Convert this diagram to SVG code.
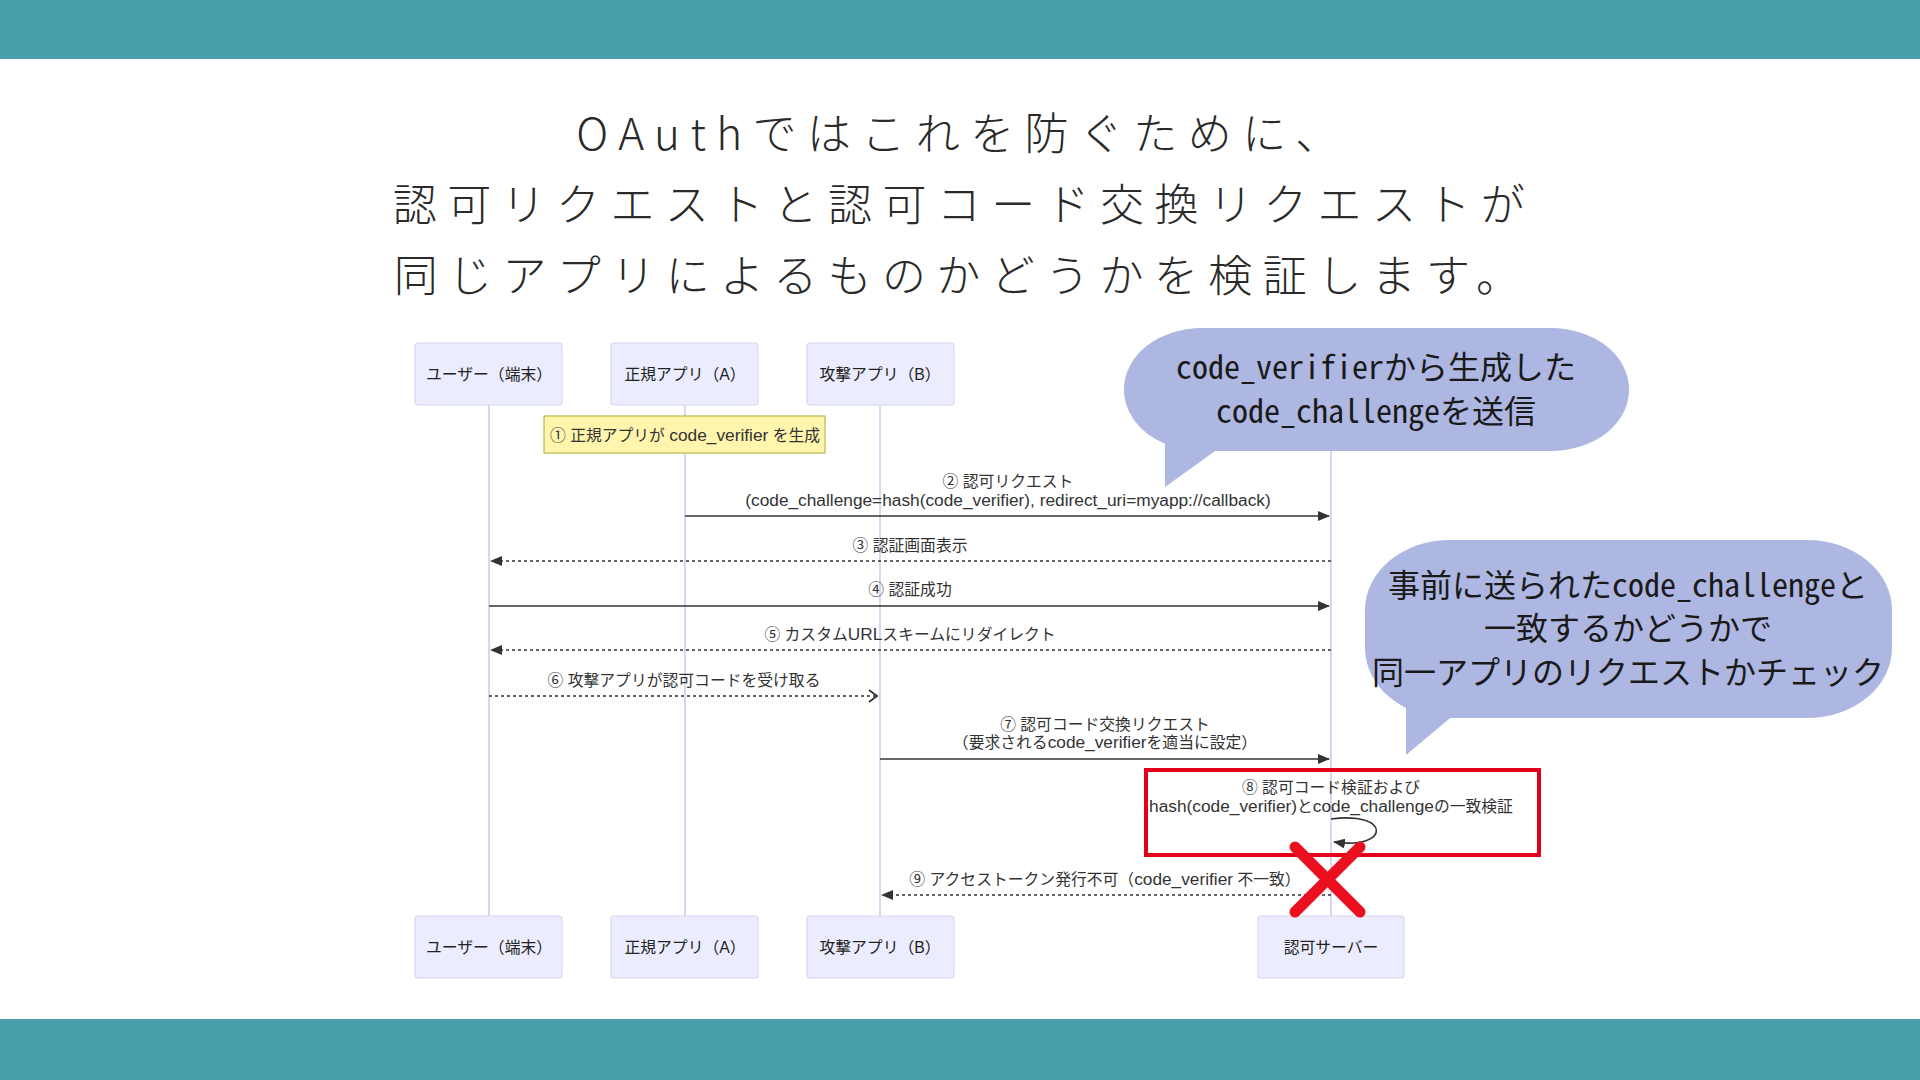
<svg xmlns="http://www.w3.org/2000/svg" width="1920" height="1080" viewBox="0 0 1920 1080">
<defs>
<style>
.band{fill:#4a9fac}
.title{font-family:"Noto Sans CJK JP","Noto Sans",sans-serif;font-weight:300;font-size:44px;letter-spacing:10.4px;fill:#2a2a2a;text-anchor:middle}
.actor{fill:#ececff;stroke:#d9d4f3;stroke-width:1.2}
.atext{font-family:"Liberation Sans","Noto Sans CJK JP",sans-serif;font-size:15.8px;fill:#222;text-anchor:middle}
.life{stroke:#ccc8ee;stroke-width:1.5}
.lbl{font-family:"Liberation Sans","Noto Sans CJK JP",sans-serif;font-size:15.8px;fill:#333;text-anchor:middle}
.lt{font-size:17.3px}
.msg{stroke:#333;stroke-width:1.6;fill:none}
.dot{stroke-dasharray:3 3}
.note{fill:#fff5ad;stroke:#aaaa33;stroke-width:1}
.bub{fill:#aeb6e2}
.btext{font-family:"Noto Sans Mono CJK JP","Noto Sans CJK JP",sans-serif;font-size:32px;fill:#1a1a1a;text-anchor:middle}
.redbox{fill:none;stroke:#e3001b;stroke-width:4}
.cross{stroke:#ea1020;stroke-width:11;stroke-linecap:round}
</style>
<marker id="ah" viewBox="0 0 12 10" refX="11" refY="5" markerWidth="12" markerHeight="10" markerUnits="userSpaceOnUse" orient="auto">
<path d="M0,0 L12,5 L0,10 Z" fill="#333"/>
</marker>
<marker id="open" viewBox="0 0 12 14" refX="11" refY="7" markerWidth="12" markerHeight="14" markerUnits="userSpaceOnUse" orient="auto">
<path d="M2,1 L10,7 L2,13" fill="none" stroke="#333" stroke-width="1.8"/>
</marker>
</defs>
<rect width="1920" height="1080" fill="#ffffff"/>
<rect class="band" x="0" y="0" width="1920" height="59"/>
<rect class="band" x="0" y="1019" width="1920" height="61"/>

<g id="title">
<text class="title" x="963" y="150">OAuthではこれを防ぐために、</text>
<text class="title" x="964" y="221">認可リクエストと認可コード交換リクエストが</text>
<text class="title" x="962" y="292">同じアプリによるものかどうかを検証します。</text>
</g>

<g id="lifelines">
<line class="life" x1="489" y1="405" x2="489" y2="916"/>
<line class="life" x1="685" y1="405" x2="685" y2="916"/>
<line class="life" x1="880" y1="405" x2="880" y2="916"/>
<line class="life" x1="1331" y1="405" x2="1331" y2="916"/>
</g>

<g id="actor-user-top"><rect class="actor" x="415" y="343" width="147" height="62" rx="3"/><text class="atext" x="489" y="380">ユーザー（端末）</text></g>
<g id="actor-a-top"><rect class="actor" x="611" y="343" width="147" height="62" rx="3"/><text class="atext" x="685" y="380">正規アプリ（A）</text></g>
<g id="actor-b-top"><rect class="actor" x="807" y="343" width="147" height="62" rx="3"/><text class="atext" x="880" y="380">攻撃アプリ（B）</text></g>

<g id="actor-user-bottom"><rect class="actor" x="415" y="916" width="147" height="62" rx="3"/><text class="atext" x="489" y="953">ユーザー（端末）</text></g>
<g id="actor-a-bottom"><rect class="actor" x="611" y="916" width="147" height="62" rx="3"/><text class="atext" x="685" y="953">正規アプリ（A）</text></g>
<g id="actor-b-bottom"><rect class="actor" x="807" y="916" width="147" height="62" rx="3"/><text class="atext" x="880" y="953">攻撃アプリ（B）</text></g>
<g id="actor-server-bottom"><rect class="actor" x="1258" y="916" width="146" height="62" rx="3"/><text class="atext" x="1331" y="953">認可サーバー</text></g>

<g id="note1"><rect class="note" x="544" y="416" width="281" height="37"/><text class="lbl" x="685" y="441">① 正規アプリが <tspan class="lt">code_verifier</tspan> を生成</text></g>

<g id="connectors">
<line class="msg" x1="685" y1="516" x2="1329" y2="516" marker-end="url(#ah)"/>
<line class="msg dot" x1="1331" y1="561" x2="491" y2="561" marker-end="url(#ah)"/>
<line class="msg" x1="489" y1="606" x2="1329" y2="606" marker-end="url(#ah)"/>
<line class="msg dot" x1="1331" y1="650" x2="491" y2="650" marker-end="url(#ah)"/>
<line class="msg dot" x1="489" y1="696" x2="878" y2="696" marker-end="url(#open)"/>
<line class="msg" x1="880" y1="759" x2="1329" y2="759" marker-end="url(#ah)"/>
<path class="msg" d="M1331,819 C1391,811 1391,850 1334,842" marker-end="url(#ah)"/>
<line class="msg dot" x1="1331" y1="895" x2="882" y2="895" marker-end="url(#ah)"/>
</g>

<g id="labels">
<text class="lbl" x="1008" y="487">② 認可リクエスト</text>
<text class="lbl" x="1008" y="506"><tspan class="lt">(code_challenge=hash(code_verifier), redirect_uri=myapp://callback)</tspan></text>
<text class="lbl" x="910" y="551">③ 認証画面表示</text>
<text class="lbl" x="910" y="595">④ 認証成功</text>
<text class="lbl" x="910" y="640">⑤ カスタム<tspan class="lt">URL</tspan>スキームにリダイレクト</text>
<text class="lbl" x="684" y="686">⑥ 攻撃アプリが認可コードを受け取る</text>
<text class="lbl" x="1105" y="730">⑦ 認可コード交換リクエスト</text>
<text class="lbl" x="1105" y="748">（要求される<tspan class="lt">code_verifier</tspan>を適当に設定）</text>
<text class="lbl" x="1331" y="793">⑧ 認可コード検証および</text>
<text class="lbl" x="1331" y="812"><tspan class="lt">hash(code_verifier)</tspan>と<tspan class="lt">code_challenge</tspan>の一致検証</text>
<text class="lbl" x="1105" y="885">⑨ アクセストークン発行不可（<tspan class="lt">code_verifier</tspan> 不一致）</text>
</g>

<g id="highlight">
<rect class="redbox" x="1146" y="770" width="393" height="85"/>
</g>
<g id="cross">
<line class="cross" x1="1295" y1="847" x2="1360" y2="912"/>
<line class="cross" x1="1360" y1="847" x2="1295" y2="912"/>
</g>

<g id="bubble1">
<rect class="bub" x="1124" y="328" width="505" height="123" rx="78" ry="61"/>
<path class="bub" d="M1165,430 L1165,487 L1222,446 Z"/>
<text class="btext" x="1376" y="379">code_verifierから生成した</text>
<text class="btext" x="1376" y="423">code_challengeを送信</text>
</g>

<g id="bubble2">
<rect class="bub" x="1365" y="540" width="527" height="178" rx="85" ry="70"/>
<path class="bub" d="M1406,700 L1406,755 L1455,714 Z"/>
<text class="btext" x="1628" y="597">事前に送られたcode_challengeと</text>
<text class="btext" x="1628" y="640">一致するかどうかで</text>
<text class="btext" x="1628" y="684">同一アプリのリクエストかチェック</text>
</g>
</svg>
